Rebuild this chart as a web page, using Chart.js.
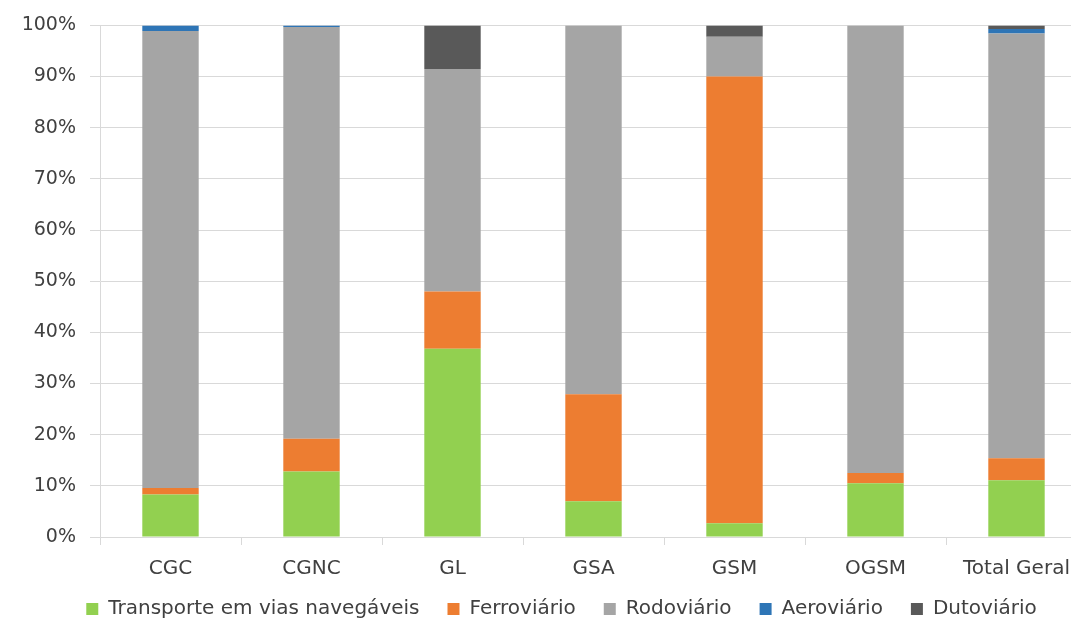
<!DOCTYPE html>
<html>
<head>
<meta charset="utf-8">
<script src="https://cdn.jsdelivr.net/npm/chart.js@4.4.1/dist/chart.umd.min.js"></script>
<style>
  html, body { margin: 0; padding: 0; background: #ffffff; }
  #wrap { width: 1071px; height: 618px; overflow: hidden; position: relative; }
  canvas { display: block; }
</style>
</head>
<body>
<div id="wrap"><canvas id="c" width="1128" height="639"></canvas></div>
<script>
// Modal split (%) per group
const categories = ['CGC', 'CGNC', 'GL', 'GSA', 'GSM', 'OGSM', 'Total Geral'];
const navegaveis = [8.3, 12.8, 36.8, 7.0, 2.7, 10.5, 11.1];
const ferroviario = [1.3, 6.4, 11.2, 20.9, 87.3, 2.0, 4.3];
const rodoviario = [89.3, 80.5, 43.5, 72.1, 7.8, 87.5, 83.0];
const aeroviario = [1.1, 0.3, 0, 0, 0, 0, 0.9];
const dutoviario = [0, 0, 8.5, 0, 2.2, 0, 0.7];
const yTicks = [0, 10, 20, 30, 40, 50, 60, 70, 80, 90, 100];

const seriesNames = ['Transporte em vias navegáveis', 'Ferroviário', 'Rodoviário', 'Aeroviário', 'Dutoviário'];
const seriesData = [navegaveis, ferroviario, rodoviario, aeroviario, dutoviario];
const seriesColors = ['#92D050', '#ED7D31', '#A5A5A5', '#2E75B6', '#595959'];

const FONT = 'DejaVu Sans';
const gridColor = '#D9D9D9';
const textColor = '#404040';

// Nudge the legend row: a little right and closer to the axis labels
const legendOffset = {
  id: 'legendOffset',
  afterLayout(chart) {
    const lg = chart.legend;
    lg.left += 18; lg.right += 18;
    lg.top -= 10; lg.bottom -= 10;
  }
};

new Chart(document.getElementById('c'), {
  type: 'bar',
  data: {
    labels: categories,
    datasets: seriesNames.map((name, i) => ({
      label: name,
      data: seriesData[i],
      backgroundColor: seriesColors[i],
      borderWidth: 0,
      barPercentage: 0.4,
      categoryPercentage: 1.0
    }))
  },
  plugins: [legendOffset],
  options: {
    responsive: false,
    animation: false,
    layout: { padding: { top: 10.6, right: 41, bottom: 0, left: 0 } },
    plugins: {
      tooltip: { enabled: false },
      legend: {
        position: 'bottom',
        labels: {
          boxWidth: 12,
          boxHeight: 12,
          padding: 28,
          color: textColor,
          font: { family: FONT, size: 20 }
        }
      }
    },
    scales: {
      x: {
        stacked: true,
        afterFit: (s) => { s.height = 44; },
        grid: {
          offset: true,
          drawOnChartArea: false,
          drawTicks: true,
          tickLength: 8,
          color: gridColor
        },
        border: { color: gridColor, width: 1 },
        ticks: {
          color: textColor,
          padding: 12,
          maxRotation: 0,
          font: { family: FONT, size: 20 }
        }
      },
      y: {
        stacked: true,
        min: 0,
        max: 100,
        afterFit: (s) => { s.width = 100; },
        afterBuildTicks: (s) => { s.ticks = yTicks.map(v => ({ value: v })); },
        grid: {
          color: gridColor,
          lineWidth: 1,
          drawTicks: true,
          tickLength: 10
        },
        border: { color: gridColor, width: 1 },
        ticks: {
          color: textColor,
          padding: 14,
          font: { family: FONT, size: 19 },
          callback: (v) => v + '%'
        }
      }
    }
  }
});
</script>
</body>
</html>
